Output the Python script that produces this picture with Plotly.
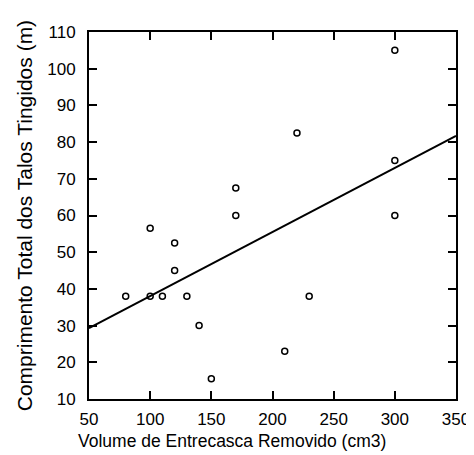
import plotly.graph_objects as go

volume_x = [80, 100, 100, 110, 120, 120, 130, 140, 150, 170, 170, 210, 220, 230, 300, 300, 300]
comprimento_y = [38, 56.5, 38, 38, 52.5, 45, 38, 30, 15.5, 67.5, 60, 23, 82.5, 38, 105, 75, 60]
fit_x = [50, 350]
fit_y = [29.3, 81.7]
x_ticks = [50, 100, 150, 200, 250, 300, 350]
y_ticks = [10, 20, 30, 40, 50, 60, 70, 80, 90, 100, 110]
x_title = "Volume de Entrecasca Removido (cm3)"
y_title = "Comprimento Total dos Talos Tingidos (m)"

fig = go.Figure()
fig.add_trace(go.Scatter(x=fit_x, y=fit_y, mode="lines",
                         line=dict(color="black", width=2), showlegend=False))
fig.add_trace(go.Scatter(x=volume_x, y=comprimento_y, mode="markers",
                         marker=dict(symbol="circle-open", size=6, color="black",
                                     line=dict(width=1.5, color="black")),
                         showlegend=False))

family = "Liberation Sans, Arial, sans-serif"
font = dict(family=family, size=17, color="black")
axis_common = dict(showgrid=False, zeroline=False, showline=True, linecolor="black",
                   linewidth=2, mirror="ticks", ticks="inside", ticklen=8,
                   tickwidth=2, tickcolor="black", tickfont=font, automargin=False)

# page body has an 8px margin, so the figure is drawn 8px in from the top-left
fig.update_layout(
    width=466, height=447,
    margin=dict(l=81, r=18, t=24, b=56),
    plot_bgcolor="white", paper_bgcolor="white",
    font=font,
    xaxis=dict(range=[50, 350], tickvals=x_ticks, ticklabelstandoff=4, **axis_common),
    yaxis=dict(range=[10, 110], tickvals=y_ticks, ticklabelstandoff=8, **axis_common),
    annotations=[
        dict(text=x_title, xref="paper", yref="paper", x=0.39, y=-0.114,
             xanchor="center", yanchor="middle", showarrow=False,
             font=dict(family=family, size=17.5, color="black")),
        dict(text=y_title, xref="paper", yref="paper", x=-0.176, y=0.499,
             xanchor="center", yanchor="middle", textangle=-90, showarrow=False,
             font=dict(family=family, size=21, color="black")),
    ],
)

fig.write_html("out.html")
